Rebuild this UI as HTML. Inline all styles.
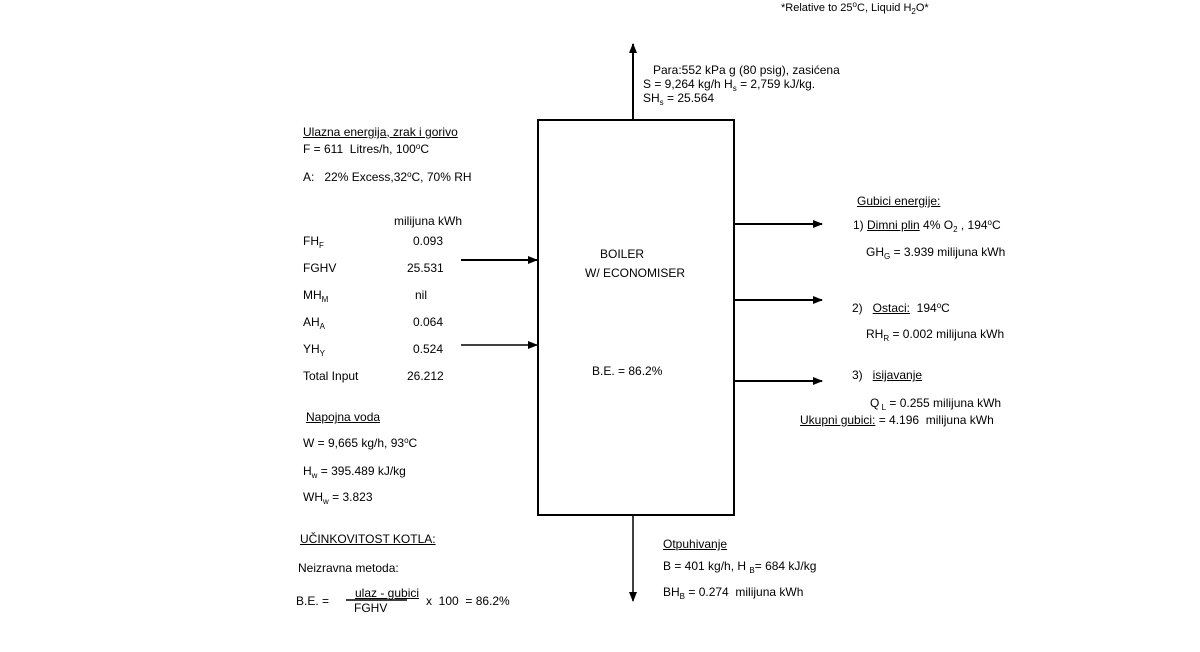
<!DOCTYPE html>
<html><head><meta charset="utf-8"><style>
body{margin:0;background:#fff;width:1200px;height:652px;position:relative;overflow:hidden;font-family:"Liberation Sans",sans-serif;font-size:12px;color:#000}
.t{position:absolute;white-space:nowrap;line-height:14px}
u{text-decoration:underline}
sub{font-size:8px;vertical-align:-3px;line-height:0}
sup{font-size:8px;vertical-align:4px;line-height:0}
</style></head><body>
<svg width="1200" height="652" style="position:absolute;left:0;top:0">
<defs><marker id="a" markerWidth="10" markerHeight="8" refX="9" refY="4" orient="auto" markerUnits="userSpaceOnUse"><path d="M0,0 L10,4 L0,8 z" fill="#000"/></marker></defs>
<rect x="538" y="120" width="196" height="395" fill="none" stroke="#000" stroke-width="2"/>
<line x1="633" y1="119" x2="633" y2="44" stroke="#000" stroke-width="2" marker-end="url(#a)"/>
<line x1="633" y1="516" x2="633" y2="601" stroke="#000" stroke-width="1.5" marker-end="url(#a)"/>
<line x1="735" y1="224" x2="822" y2="224" stroke="#000" stroke-width="2" marker-end="url(#a)"/>
<line x1="735" y1="300" x2="822" y2="300" stroke="#000" stroke-width="2" marker-end="url(#a)"/>
<line x1="735" y1="381" x2="822" y2="381" stroke="#000" stroke-width="2" marker-end="url(#a)"/>
<line x1="461" y1="260" x2="537" y2="260" stroke="#000" stroke-width="2" marker-end="url(#a)"/>
<line x1="461" y1="345" x2="537" y2="345" stroke="#000" stroke-width="1.5" marker-end="url(#a)"/>
<line x1="346" y1="600" x2="407" y2="600" stroke="#000" stroke-width="1.5"/>
</svg>
<div class="t" style="left:781px;top:1px;font-size:11px">*Relative to 25<sup>o</sup>C, Liquid H<sub>2</sub>O*</div>
<div class="t" style="left:653px;top:63px">Para:552 kPa g (80 psig), zasićena</div>
<div class="t" style="left:643px;top:77px">S = 9,264 kg/h H<sub>s</sub> = 2,759 kJ/kg.</div>
<div class="t" style="left:643px;top:91px">SH<sub>s</sub> = 25.564</div>
<div class="t" style="left:303px;top:125px"><u>Ulazna energija, zrak i gorivo</u></div>
<div class="t" style="left:303px;top:142px">F = 611&nbsp; Litres/h, 100<sup>o</sup>C</div>
<div class="t" style="left:303px;top:170px">A:&nbsp;&nbsp; 22% Excess,32<sup>o</sup>C, 70% RH</div>
<div class="t" style="left:394px;top:214px">milijuna kWh</div>
<div class="t" style="left:303px;top:234px">FH<sub>F</sub></div><div class="t" style="left:413px;top:234px">0.093</div>
<div class="t" style="left:303px;top:261px">FGHV</div><div class="t" style="left:407px;top:261px">25.531</div>
<div class="t" style="left:303px;top:288px">MH<sub>M</sub></div><div class="t" style="left:415px;top:288px">nil</div>
<div class="t" style="left:303px;top:315px">AH<sub>A</sub></div><div class="t" style="left:413px;top:315px">0.064</div>
<div class="t" style="left:303px;top:342px">YH<sub>Y</sub></div><div class="t" style="left:413px;top:342px">0.524</div>
<div class="t" style="left:303px;top:369px">Total Input</div><div class="t" style="left:407px;top:369px">26.212</div>
<div class="t" style="left:306px;top:410px"><u>Napojna voda</u></div>
<div class="t" style="left:303px;top:436px">W = 9,665 kg/h, 93<sup>o</sup>C</div>
<div class="t" style="left:303px;top:464px">H<sub>w</sub> = 395.489 kJ/kg</div>
<div class="t" style="left:303px;top:490px">WH<sub>w</sub> = 3.823</div>
<div class="t" style="left:300px;top:532px"><u>UČINKOVITOST KOTLA:</u></div>
<div class="t" style="left:298px;top:561px">Neizravna metoda:</div>
<div class="t" style="left:296px;top:594px">B.E. =</div>
<div class="t" style="left:355px;top:586px"><u>ulaz - gubici</u></div>
<div class="t" style="left:354px;top:601px">FGHV</div>
<div class="t" style="left:426px;top:594px">x&nbsp; 100&nbsp; = 86.2%</div>
<div class="t" style="left:600px;top:247px">BOILER</div>
<div class="t" style="left:585px;top:266px">W/ ECONOMISER</div>
<div class="t" style="left:592px;top:364px">B.E. = 86.2%</div>
<div class="t" style="left:857px;top:194px"><u>Gubici energije:</u></div>
<div class="t" style="left:853px;top:218px">1) <u>Dimni plin</u> 4% O<sub>2</sub> , 194<sup>o</sup>C</div>
<div class="t" style="left:866px;top:245px">GH<sub>G</sub> = 3.939 milijuna kWh</div>
<div class="t" style="left:852px;top:301px">2)&nbsp;&nbsp; <u>Ostaci:</u>&nbsp; 194<sup>o</sup>C</div>
<div class="t" style="left:866px;top:327px">RH<sub>R</sub> = 0.002 milijuna kWh</div>
<div class="t" style="left:852px;top:368px">3)&nbsp;&nbsp; <u>isijavanje</u></div>
<div class="t" style="left:870px;top:396px">Q<sub> L</sub> = 0.255 milijuna kWh</div>
<div class="t" style="left:800px;top:413px"><u>Ukupni gubici:</u> = 4.196&nbsp; milijuna kWh</div>
<div class="t" style="left:663px;top:537px"><u>Otpuhivanje</u></div>
<div class="t" style="left:663px;top:559px">B = 401 kg/h, H <sub>B</sub>= 684 kJ/kg</div>
<div class="t" style="left:663px;top:585px">BH<sub>B</sub> = 0.274&nbsp; milijuna kWh</div>
</body></html>
